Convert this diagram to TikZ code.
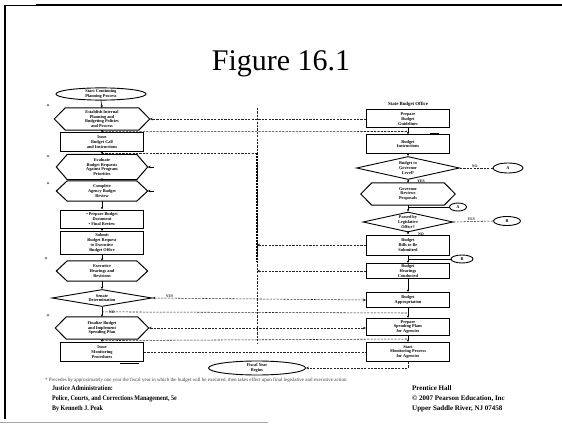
\documentclass[tikz,border=0pt]{standalone}
\usepackage{fontspec}
\setmainfont{Liberation Serif}
\usetikzlibrary{shapes.geometric,arrows.meta,calc}
\tikzset{
  tx/.style={font=\fontsize{4.3}{4.7}\selectfont\bfseries, align=center, inner sep=0pt},
  box/.style={tx, draw, line width=1pt, minimum width=83pt, minimum height=#1},
  dec/.style={tx, draw, diamond, line width=0.9pt, aspect=4.5},
  oval/.style={tx, draw, ellipse, line width=0.9pt},
  flow/.style={line width=0.6pt, -{Stealth[length=2.6pt,width=2.4pt]}},
  dsh/.style={line width=0.55pt, dash pattern=on 2.2pt off 1.2pt, black!85},
  tip/.style={-{Stealth[length=3pt,width=2.6pt]}},
  tips/.style={{Stealth[length=3pt,width=2.6pt]}-{Stealth[length=3pt,width=2.6pt]}},
  starmark/.style={font=\fontsize{6}{6}\selectfont, inner sep=0pt},
  lbl/.style={font=\fontsize{3.8}{4}\selectfont\bfseries, inner sep=0.5pt},
  foot/.style={font=\fontsize{7}{9}\selectfont\bfseries, anchor=base west, inner sep=0pt},
}
% hexagonal process step: name, x, y, width, height, text
\newcommand\hexnode[6]{%
  \node[tx, minimum width=#4pt, minimum height=#5pt] (#1) at (#2,#3) {#6};
  \draw[line width=1pt] (#1.west) -- ([xshift=11pt]#1.north west)
    -- ([xshift=-11pt]#1.north east) -- (#1.east)
    -- ([xshift=-11pt]#1.south east) -- ([xshift=11pt]#1.south west) -- cycle;}

\begin{document}
\begin{tikzpicture}[x=1pt,y=-1pt]
\useasboundingbox (0,0) rectangle (562,425);
\fill[white] (0,0) rectangle (562,425);

% slide frame
\draw[line width=1pt] (4,6) -- (36,6);
\draw[line width=2.2pt] (36,5) -- (562,5);
\draw[line width=1.2pt] (5,5) -- (5,419);
\draw[line width=1pt, black!35] (0,422) -- (268,422);

% title
\node[font=\fontsize{30}{30}\selectfont, anchor=base, inner sep=0pt] (title) at (281,71) {Figure 16.1};

% agency column
\node[oval, minimum width=90pt, minimum height=12pt] (L0) at (101,94) {Start Continuing\\Planning Process};
\hexnode{L1}{102}{119}{95}{22}{Establish Internal\\Planning and\\Budgeting Policies\\and Process}
\node[box=18pt] (L2) at (102,142) {Issue\\Budget Call\\and Instructions};
\hexnode{L3}{102}{167}{91}{25}{Evaluate\\Budget Requests\\Against Program\\Priorities}
\hexnode{L4}{102}{191}{91}{20}{Complete\\Agency Budget\\Review}
\node[box=18pt] (L5) at (102,219) {\textbullet\ Prepare Budget\\Document\\\textbullet\ Final Review};
\node[box=23pt] (L6) at (102,243) {Submit\\Budget Request\\to Executive\\Budget Office};
\hexnode{L7}{102}{271}{91}{20}{Executive\\Hearings and\\Revisions}
\node[dec, minimum width=100pt, minimum height=17pt] (L8) at (102,298) {Senate\\Determination};
\hexnode{L9}{102}{328}{93}{22}{Finalize Budget\\and Implement\\Spending Plan}
\node[box=19pt] (L10) at (102,352) {Issue\\Monitoring\\Procedures};
\draw[line width=1.4pt] ([xshift=-24pt,yshift=-1.2pt]L10.south east) -- ([xshift=-5pt,yshift=-1.2pt]L10.south east);

% margin marks
\node[starmark] (s1) at (48,107) {*};
\node[starmark] (s2) at (48,158) {*};
\node[starmark] (s3) at (48,185) {*};
\node[starmark] (s4) at (46,260) {*};
\node[starmark] (s5) at (48,317) {*};

% state budget column
\node[font=\fontsize{4.8}{5}\selectfont\bfseries, inner sep=0pt] (Rhead) at (408,104) {State Budget Office};
\node[box=18pt] (R1) at (408,119) {Prepare\\Budget\\Guidelines};
\node[box=18pt] (R2) at (408,144) {Budget\\Instructions};
\draw[line width=1.5pt] ([xshift=-20pt,yshift=1pt]R2.north east) -- ([xshift=-11pt,yshift=1pt]R2.north east);
\node[dec, minimum width=103pt, minimum height=23pt] (R3) at (408,168) {Budget to\\Governor\\Level?};
\node[oval, minimum width=30pt, minimum height=10pt] (CA) at (508,168) {A};
\hexnode{R4}{408}{194}{94}{22}{Governor\\Reviews\\Proposals}
\node[oval, minimum width=17pt, minimum height=8pt] (CA2) at (458,207) {A};
\node[dec, minimum width=90pt, minimum height=20pt] (R5) at (408,222) {Passed by\\Legislative\\Office?};
\node[oval, minimum width=27pt, minimum height=9pt] (CB) at (507,221) {B};
\node[box=20pt] (R6) at (408,245) {Budget\\Bills to Be\\Submitted};
\node[oval, minimum width=22pt, minimum height=8pt] (CB2) at (462,259) {B};
\node[box=15pt] (R7) at (408,271) {Budget\\Hearings\\Conducted};
\node[box=15pt] (R8) at (408,300) {Budget\\Appropriation};
\node[box=17pt] (R9) at (408,327) {Prepare\\Spending Plans\\for Agencies};
\node[box=19pt] (R10) at (408,352) {Start\\Monitoring Process\\for Agencies};

% fiscal year terminal
\node[oval, minimum width=97pt, minimum height=14pt] (M) at (257,368) {Fiscal Year\\Begins};

% column flow
\foreach \a/\b in {L0/L1,L1/L2,L2/L3,L3/L4,L4/L5,L5/L6,L6/L7,L7/L8,L8/L9,L9/L10,
                   R1/R2,R2/R3,R3/R4,R4/R5,R5/R6,R6/R7,R7/R8,R8/R9,R9/R10}
  \draw[flow] (\a.south) -- (\b.north);

% decision branches and connectors
\draw[dsh] (R3.east) -- (CA.west) node[lbl, pos=0.45, above] (nR3) {NO};
\draw[dsh] (R5.east) -- (CB.west) node[lbl, pos=0.45, above] (yR5) {YES};
\draw[line width=0.5pt] (CA2.west) -- (CA2.west -| R4.south);
\draw[line width=0.5pt] (CB2.west) -- (CB2.west -| R6.south);
\node[lbl] (yR3) at (421,181) {YES};
\node[lbl] (nR5) at (421,234) {NO};
\node[lbl] (nL8) at (112,312) {NO};

% junctions between the two columns
\coordinate (gA) at ($(L1.south)!.5!(L2.north)$);
\coordinate (hA) at ($(R1.south)!.5!(R2.north)$);
\coordinate (gB) at ($(L2.south)!.5!(L3.north)$);
\coordinate (gC) at ($(L8.south)!.5!(L9.north)$);
\coordinate (hC) at ($(R8.south)!.5!(R9.north)$);
\coordinate (gD) at ($(L9.south)!.5!(L10.north)$);
\coordinate (hD) at ($(R9.south)!.5!(R10.north)$);
\coordinate (sp0) at (257,108);
\coordinate (sp1) at (257,262);
\coordinate (sp2) at (257,343);
\coordinate (a3) at ($(L3.east)+(6,0)$);
\coordinate (a4) at ($(L4.east)+(6,0)$);

\draw[dsh, tip] (R1.west) -- (L1.east);
\draw[dsh] (gA) -- (hA);
\draw[dsh] (gB) -- (gB -| sp0);
\draw[dsh] (sp0) -- (sp2);
\draw[line width=1.2pt, dash pattern=on 0.8pt off 0.7pt] (gB -| sp0) -- (sp1);
\draw[tip, line width=0.5pt] (a3) -- (L3.east);
\draw[tip, line width=0.5pt] (a4) -- (L4.east);
\draw[dsh, tip] (R6.west) -- (R6.west -| sp0);
\draw[dsh, tip] (R7.west) -- (R7.west -| sp0);
\draw[dsh, tips] (L8.east) -- (R8.west) node[lbl, pos=0.08, above] (yL8) {YES};
\draw[dsh] (gC) -- (hC);
\draw[dsh, tips] (L9.east) -- (L9.east -| R9.west);
\draw[dsh] (gD) -- (hD);
\draw[dsh] (L10.east) -- (R10.west);
\draw[dsh, tip] (R10.south) |- (M.east);

% footnote and credits
\node[font=\fontsize{5}{6}\selectfont, text=black!75, anchor=west, inner sep=0pt] (note) at (45,380)
  {* Precedes by approximately one year the fiscal year in which the budget will be executed, then takes effect upon final legislative and executive action};
\node[foot] (f1) at (52,390) {\addfontfeature{FakeStretch=0.86}Justice Administration:};
\node[foot] (f2) at (52,400) {\addfontfeature{FakeStretch=0.86}Police, Courts, and Corrections Management, 5e};
\node[foot] (f3) at (52,410) {\addfontfeature{FakeStretch=0.86}By Kenneth J. Peak};
\node[foot] (f4) at (412,390) {Prentice Hall};
\node[foot] (f5) at (412,400) {\textcopyright\ 2007 Pearson Education, Inc};
\node[foot] (f6) at (412,410) {Upper Saddle River, NJ 07458};
\end{tikzpicture}
\end{document}
